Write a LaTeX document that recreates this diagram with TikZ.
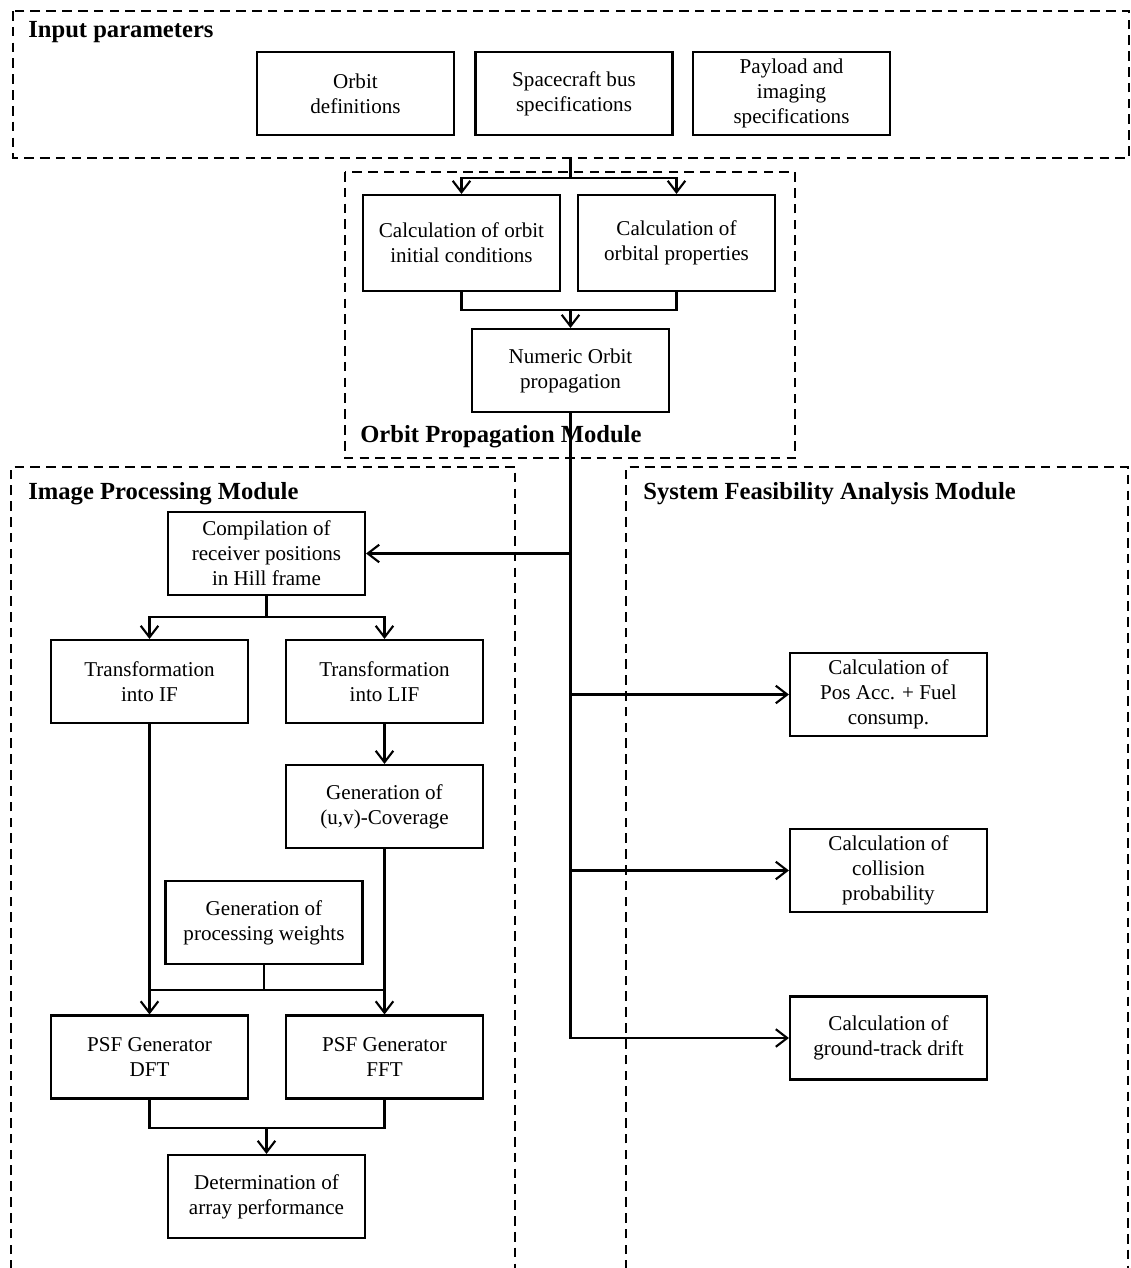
\documentclass[tikz,border=0pt]{standalone}
\usepackage{fontspec}
\setmainfont{Liberation Serif}
\usetikzlibrary{arrows.meta}

\tikzset{
  box/.style={rectangle, draw, line width=1.2pt, minimum width=3.94cm, minimum height=1.66cm, align=center, inner sep=2pt, font=\fontsize{12}{14.2}\selectfont},
  tallbox/.style={box, minimum height=1.92cm},
  frame/.style={draw, dashed, line width=1.1pt, dash pattern=on 5.5pt off 3.5pt},
  title/.style={anchor=west, inner sep=0pt, font=\bfseries\fontsize{14}{16}\selectfont},
  conn/.style={line width=1.2pt},
}

\begin{document}
\begin{tikzpicture}[>={Straight Barb[length=6.5pt,width=10pt]}]

\useasboundingbox (0,0) rectangle (22.62,-25.36);

% module frames
\draw[frame] (0.26,-0.22) rectangle (22.58,-3.16);
\draw[frame] (6.9,-3.44) rectangle (15.9,-9.16);
\draw[frame] (0.22,-25.4) -- (0.22,-9.34) -- (10.3,-9.34) -- (10.3,-25.4);
\draw[frame] (12.52,-25.4) -- (12.52,-9.34) -- (22.56,-9.34) -- (22.56,-25.4);

\node[title] at (0.56,-0.64) (tinput) {Input parameters};
\node[title] at (7.2,-8.74) (torbit) {Orbit Propagation Module};
\node[title] at (0.56,-9.88) (timage) {Image Processing Module};
\node[title] at (12.86,-9.88) (tsystem) {System Feasibility Analysis Module};

% input parameters
\node[box] at (7.11,-1.87) (orbdef) {Orbit\\definitions};
\node[box] at (11.48,-1.87) (scbus) {Spacecraft bus\\specifications};
\node[box] at (15.83,-1.87) (payload) {Payload and\\imaging\\specifications};

% orbit propagation
\node[tallbox] at (9.23,-4.86) (initcond) {Calculation of orbit\\initial conditions};
\node[tallbox] at (13.53,-4.86) (orbprop) {Calculation of\\orbital properties};
\node[box] at (11.41,-7.41) (numprop) {Numeric Orbit\\propagation};

% image processing
\node[box] at (5.33,-11.07) (hill) {Compilation of\\receiver positions\\in Hill frame};
\node[box] at (2.99,-13.63) (tif) {Transformation\\into IF};
\node[box] at (7.69,-13.63) (tlif) {Transformation\\into LIF};
\node[box] at (7.69,-16.13) (uvcov) {Generation of\\(u,v)-Coverage};
\node[box] at (5.28,-18.45) (weights) {Generation of\\processing weights};
\node[box] at (2.99,-21.14) (psfdft) {PSF Generator\\DFT};
\node[box] at (7.69,-21.14) (psffft) {PSF Generator\\FFT};
\node[box] at (5.33,-23.93) (arrperf) {Determination of\\array performance};

% system feasibility
\node[box] at (17.77,-13.89) (posacc) {Calculation of\\Pos Acc. + Fuel\\consump.};
\node[box] at (17.77,-17.41) (collision) {Calculation of\\collision\\probability};
\node[box] at (17.77,-20.76) (drift) {Calculation of\\ground-track drift};

% junctions
\coordinate (in1) at (11.41,-3.16);
\coordinate (s1) at (11.41,-3.56);
\coordinate (m1) at (11.41,-6.2);
\coordinate (s2) at (5.33,-12.34);
\coordinate (wj) at (5.28,-19.8);
\coordinate (m3) at (5.33,-22.56);

\draw[conn] (in1) -- (s1);
\draw[conn,->] (s1) -| (initcond);
\draw[conn,->] (s1) -| (orbprop);

\draw[conn] (initcond) |- (m1) -| (orbprop);
\draw[conn,->] (m1) -- (numprop);

\draw[conn,->] (numprop) |- (drift);
\draw[conn,->] (numprop.south |- hill) -- (hill);
\draw[conn,->] (numprop.south |- posacc) -- (posacc);
\draw[conn,->] (numprop.south |- collision) -- (collision);

\draw[conn] (hill) -- (s2);
\draw[conn,->] (s2) -| (tif);
\draw[conn,->] (s2) -| (tlif);
\draw[conn,->] (tlif) -- (uvcov);
\draw[conn,->] (tif) -- (psfdft);
\draw[conn,->] (uvcov) -- (psffft);

\draw[conn] (weights) -- (wj);
\draw[conn] (psfdft.north |- wj) -- (psffft.north |- wj);

\draw[conn] (psfdft) |- (m3) -| (psffft);
\draw[conn,->] (m3) -- (arrperf);

\end{tikzpicture}
\end{document}
